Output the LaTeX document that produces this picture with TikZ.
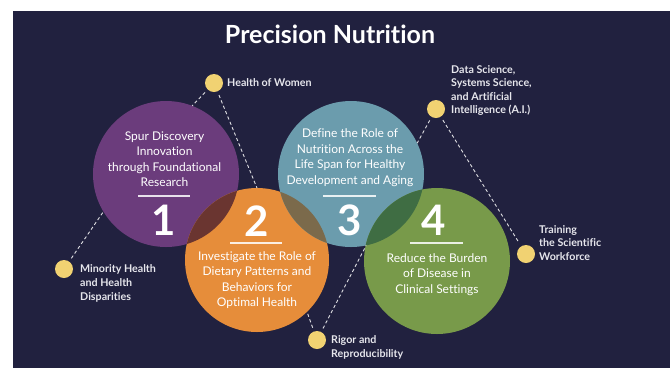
\documentclass[tikz,border=0pt]{standalone}
\usepackage{fontspec}
\setmainfont{Lato}[Ligatures={NoCommon}]
\begin{document}
\definecolor{bgnavy}{HTML}{21213F}
\definecolor{cpurple}{HTML}{6B3C7C}
\definecolor{corange}{HTML}{E68D3A}
\definecolor{cblue}{HTML}{6B9CAD}
\definecolor{cgreen}{HTML}{789A4A}
\definecolor{ovbrown}{HTML}{6A3530}
\definecolor{ovolive}{HTML}{7B6A4B}
\definecolor{ovgreen}{HTML}{3F6D43}
\definecolor{dotyellow}{HTML}{F1D272}
\definecolor{labelgray}{HTML}{E6E6EC}
\begin{tikzpicture}[x=1pt,y=-1pt,
  bigcircle/.style={circle,inner sep=0pt,outer sep=0pt,minimum size=#1},
  topicdot/.style={circle,fill=dotyellow,inner sep=0pt,outer sep=0pt,minimum size=18pt},
  dotlabel/.style={text=labelgray,font=\fontsize{10.7}{13.6}\selectfont\bfseries,align=left,inner sep=0pt,anchor=west},
  circletext/.style={text=white,font=\fontsize{12}{15.5}\selectfont,align=center,inner sep=0pt},
  bignumber/.style={text=white,font=\fontsize{42}{42}\selectfont\bfseries,inner sep=0pt,anchor=base},
  divider/.style={draw=white,line width=1.4pt,opacity=0.85},
  link/.style={draw=white!85!bgnavy,line width=0.9pt,dash pattern=on 3.2pt off 2.6pt,shorten <=4pt}
]
% canvas and panel
\useasboundingbox (0,0) rectangle (670,368);
\fill[white] (0,0) rectangle (670,368);
\fill[bgnavy] (13,11) rectangle (669.5,368);

% title
\node[text=white,font=\fontsize{25}{25}\selectfont\bfseries,anchor=base,inner sep=0pt] (title) at (330,43) {Precision Nutrition};

% the four topic circles
\node[bigcircle=146pt,fill=cpurple] (c1) at (166,174) {};
\node[bigcircle=144pt,fill=corange] (c2) at (257,260) {};
\node[bigcircle=146pt,fill=cblue] (c3) at (351,174) {};
\node[bigcircle=146pt,fill=cgreen] (c4) at (437,261) {};

% overlapping lenses
\begin{scope}
  \clip (166,174) circle (73pt);
  \fill[ovbrown] (257,260) circle (72pt);
\end{scope}
\begin{scope}
  \clip (351,174) circle (73pt);
  \fill[ovolive] (257,260) circle (72pt);
\end{scope}
\begin{scope}
  \clip (351,174) circle (73pt);
  \fill[ovgreen] (437,261) circle (73pt);
\end{scope}

% circle captions
\node[circletext] (t1) at (164.5,159) {Spur Discovery\\Innovation\\through Foundational\\Research};
\node[circletext] (t2) at (257,280) {Investigate the Role of\\Dietary Patterns and\\Behaviors for\\Optimal Health};
\node[circletext] (t3) at (350,157.5) {Define the Role of\\Nutrition Across the\\Life Span for Healthy\\Development and Aging};
\node[circletext] (t4) at (437,274.5) {Reduce the Burden\\of Disease in\\Clinical Settings};

% dividers
\coordinate (r1a) at (138,196); \coordinate (r1b) at (190,196);
\coordinate (r2a) at (230,243); \coordinate (r2b) at (282,243);
\coordinate (r3a) at (323,196); \coordinate (r3b) at (376,196);
\coordinate (r4a) at (410,243); \coordinate (r4b) at (463,243);
\draw[divider] (r1a) -- (r1b);
\draw[divider] (r2a) -- (r2b);
\draw[divider] (r3a) -- (r3b);
\draw[divider] (r4a) -- (r4b);

% numbers
\node[bignumber] (n1) at (164,235) {1};
\node[bignumber] (n2) at (257,236) {2};
\node[bignumber] (n3) at (350,235) {3};
\node[bignumber] (n4) at (434,235) {4};

% cross-cutting topics
\node[topicdot] (hw) at (214,83) {};
\node[topicdot] (ds) at (436,109) {};
\node[topicdot] (tw) at (526,254) {};
\node[topicdot] (mh) at (64,269) {};
\node[topicdot] (rr) at (317,340) {};

\node[dotlabel] (hwl) at (227,83) {Health of Women};
\node[dotlabel] (dsl) at (451,90.5) {Data Science,\\Systems Science,\\and Artificial\\Intelligence (A.I.)};
\node[dotlabel] (twl) at (539,243) {Training\\the Scientific\\Workforce};
\node[dotlabel] (mhl) at (80,283.5) {Minority Health\\and Health\\Disparities};
\node[dotlabel] (rrl) at (331,347.5) {Rigor and\\Reproducibility};

% dashed connectors
\draw[link] (hw) -- (c1.69);
\draw[link] (hw) -- (c2.90);
\draw[link] (ds) -- (c3.25);
\draw[link,shorten >=4pt] (ds) -- (tw);
\draw[link] (mh) -- (c1.211);
\draw[link] (rr) -- (c2.-46);
\draw[link] (rr) -- (c3.-78);
\end{tikzpicture}
\end{document}
